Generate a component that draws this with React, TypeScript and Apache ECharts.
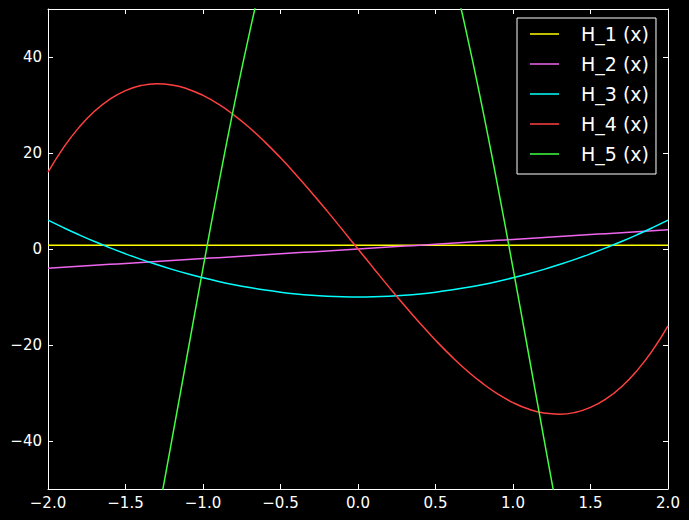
import React, { useEffect, useRef } from "react";
import * as echarts from "echarts";

const X = [-2.0,-1.9,-1.8,-1.7,-1.6,-1.5,-1.4,-1.3,-1.2,-1.1,-1.0,-0.9,-0.8,-0.7,-0.6,-0.5,-0.4,-0.3,-0.2,-0.1,0.0,0.1,0.2,0.3,0.4,0.5,0.6,0.7,0.8,0.9,1.0,1.1,1.2,1.3,1.4,1.5,1.6,1.7,1.8,1.9,2.0];

const H1 = [0.8,0.8,0.8,0.8,0.8,0.8,0.8,0.8,0.8,0.8,0.8,0.8,0.8,0.8,0.8,0.8,0.8,0.8,0.8,0.8,0.8,0.8,0.8,0.8,0.8,0.8,0.8,0.8,0.8,0.8,0.8,0.8,0.8,0.8,0.8,0.8,0.8,0.8,0.8,0.8,0.8];

const H2 = [-4.0,-3.8,-3.6,-3.4,-3.2,-3.0,-2.8,-2.6,-2.4,-2.2,-2.0,-1.8,-1.6,-1.4,-1.2,-1.0,-0.8,-0.6,-0.4,-0.2,0.0,0.2,0.4,0.6,0.8,1.0,1.2,1.4,1.6,1.8,2.0,2.2,2.4,2.6,2.8,3.0,3.2,3.4,3.6,3.8,4.0];

const H3 = [6.0,4.44,2.96,1.56,0.24,-1.0,-2.16,-3.24,-4.24,-5.16,-6.0,-6.76,-7.44,-8.04,-8.56,-9.0,-9.36,-9.64,-9.84,-9.96,-10.0,-9.96,-9.84,-9.64,-9.36,-9.0,-8.56,-8.04,-7.44,-6.76,-6.0,-5.16,-4.24,-3.24,-2.16,-1.0,0.24,1.56,2.96,4.44,6.0];

const H4 = [16.0,21.13,25.34,28.7,31.23,33.0,34.05,34.42,34.18,33.35,32.0,30.17,27.9,25.26,22.27,19.0,15.49,11.78,7.94,3.99,0.0,-3.99,-7.94,-11.78,-15.49,-19.0,-22.27,-25.26,-27.9,-30.17,-32.0,-33.35,-34.18,-34.42,-34.05,-33.0,-31.23,-28.7,-25.34,-21.13,-16.0];

const H5 = [-124.0,-124.69,-120.84,-113.17,-102.34,-89.0,-73.73,-57.1,-39.62,-21.77,-4.0,13.3,29.75,45.04,58.87,71.0,81.21,89.33,95.23,98.8,100.0,98.8,95.23,89.33,81.21,71.0,58.87,45.04,29.75,13.3,-4.0,-21.77,-39.62,-57.1,-73.73,-89.0,-102.34,-113.17,-120.84,-124.69,-124.0];

const SERIES_NAMES = ["H_1 (x)", "H_2 (x)", "H_3 (x)", "H_4 (x)", "H_5 (x)"];
const SERIES_VALUES = [H1, H2, H3, H4, H5];
const SERIES_COLORS = ["#ffff00", "#ee66ee", "#00ffff", "#ff4040", "#40ff40"];

const X_MIN = -2, X_MAX = 2, X_STEP = 0.5;
const Y_MIN = -50, Y_MAX = 50;
const Y_TICKS = [-40, -20, 0, 20, 40];

const FONT = "DejaVu Sans";
const MINUS = "\u2212";

const fmtX = (v: number) => (v < 0 ? MINUS : "") + Math.abs(v).toFixed(1);
const fmtY = (v: number) => (v < 0 ? MINUS : "") + String(Math.abs(v));

export default function App() {
  const ref = useRef<HTMLDivElement>(null);
  useEffect(() => {
    document.body.style.margin = "0";
    document.body.style.background = "#000";
    const chart = echarts.init(ref.current!, null, { renderer: "svg" });
    const axisLine = { show: true, onZero: false, lineStyle: { color: "#ffffff", width: 1 } };
    const tick = { show: true, inside: true, length: 5, lineStyle: { color: "#ffffff", width: 1 } };
    const xBase = {
      type: "value",
      min: X_MIN,
      max: X_MAX,
      interval: X_STEP,
      axisLine,
      splitLine: { show: false },
    };
    const yBase = {
      type: "value",
      min: Y_MIN,
      max: Y_MAX,
      axisLine,
      splitLine: { show: false },
    };
    chart.setOption({
      animation: false,
      backgroundColor: "#000000",
      grid: { left: 48, right: 21, top: 9, bottom: 31, outerBoundsMode: "none" },
      xAxis: [
        {
          ...xBase,
          position: "bottom",
          axisTick: tick,
          axisLabel: { color: "#ffffff", fontSize: 15, fontFamily: FONT, margin: 6, formatter: fmtX },
        },
        {
          ...xBase,
          position: "top",
          axisTick: tick,
          axisLabel: { show: false },
        },
      ],
      yAxis: [
        {
          ...yBase,
          position: "left",
          axisTick: { ...tick, customValues: Y_TICKS },
          axisLabel: { color: "#ffffff", fontSize: 15, fontFamily: FONT, margin: 6, customValues: Y_TICKS, formatter: fmtY },
        },
        {
          ...yBase,
          position: "right",
          axisTick: { ...tick, customValues: Y_TICKS },
          axisLabel: { show: false },
        },
      ],
      legend: {
        orient: "vertical",
        left: 517,
        top: 18,
        icon: "rect",
        itemWidth: 29,
        itemHeight: 1.5,
        itemGap: 0,
        padding: [1, 7, 5, 13],
        backgroundColor: "#000000",
        borderColor: "#ffffff",
        borderWidth: 1,
        borderRadius: 0,
        selectedMode: false,
        textStyle: { color: "#ffffff", fontSize: 19, lineHeight: 30, fontFamily: FONT, padding: [0, 0, 0, 17] },
        data: SERIES_NAMES,
      },
      series: SERIES_NAMES.map((name, k) => ({
        name,
        type: "line",
        xAxisIndex: 0,
        yAxisIndex: 0,
        symbol: "none",
        showSymbol: false,
        smooth: true,
        clip: true,
        silent: true,
        color: SERIES_COLORS[k],
        itemStyle: { color: SERIES_COLORS[k] },
        lineStyle: { color: SERIES_COLORS[k], width: 1.5 },
        data: X.map((x, i) => [x, SERIES_VALUES[k][i]]),
      })),
    });
    return () => chart.dispose();
  }, []);
  return (
    <div
      ref={ref}
      style={{ position: "absolute", left: 0, top: 0, width: 689, height: 520, background: "#000" }}
    />
  );
}
